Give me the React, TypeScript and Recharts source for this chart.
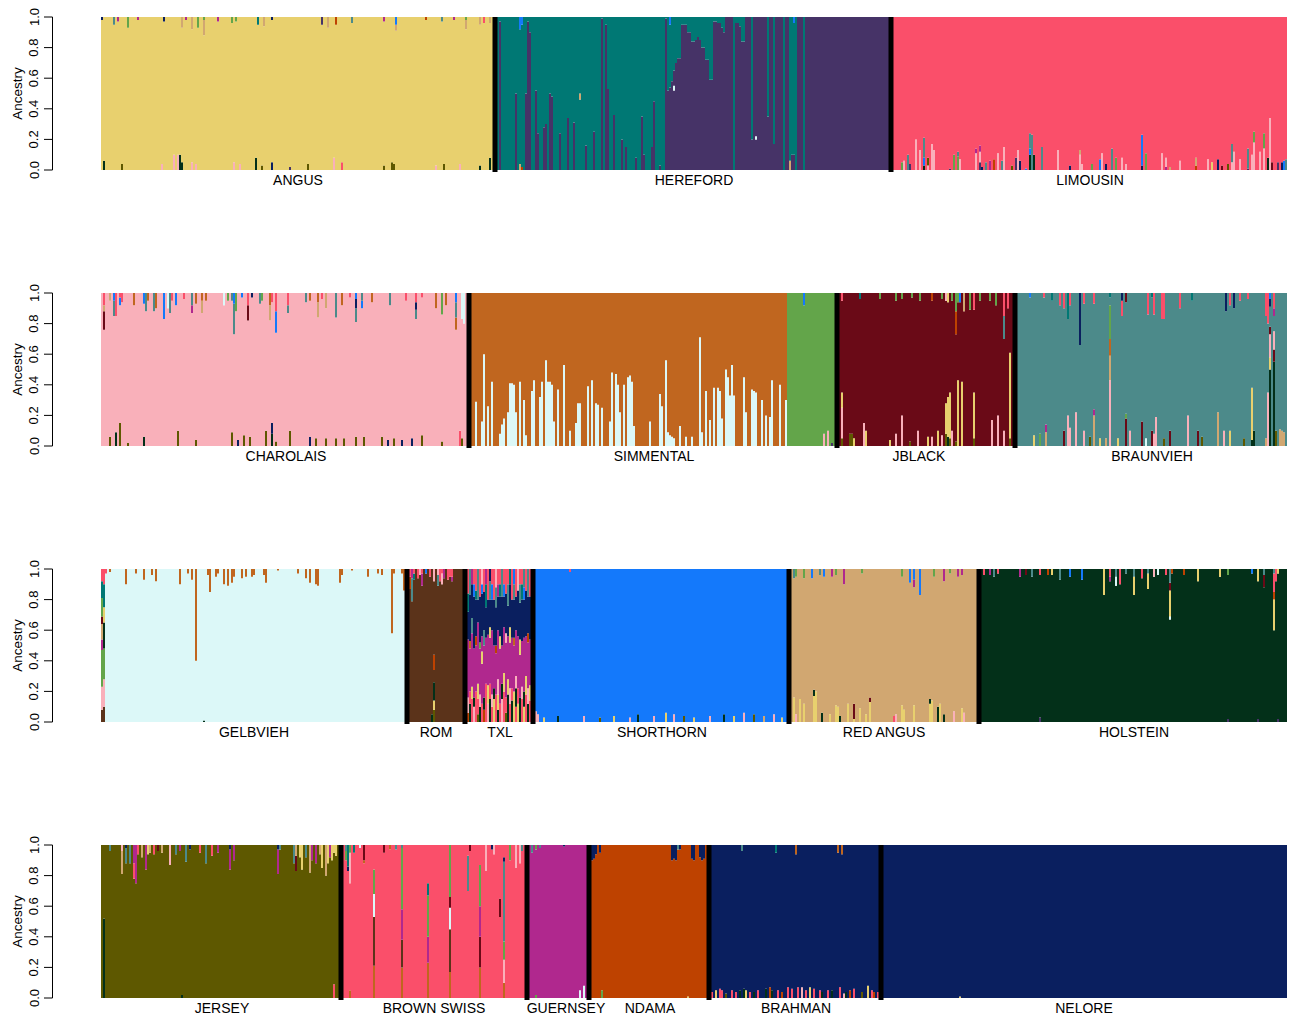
import React from "react";
import { BarChart, Bar, Cell, XAxis, YAxis, ReferenceLine } from "recharts";

// ancestry clusters (K) and their fill colours
const AN = "AN", HT = "HT", HP = "HP", RD = "RD", CH = "CH", SI = "SI", SG = "SG", JB = "JB", BV = "BV";
const GV = "GV", RM = "RM", SH = "SH", RA = "RA", HO = "HO", JE = "JE", GU = "GU", ND = "ND", IN = "IN";

const COLORS: Record<string, string> = {
  AN: "#E8D06E", HT: "#007874", HP: "#463367", RD: "#FA4F6A", CH: "#F9B0BA", SI: "#C0661F",
  SG: "#63A54A", JB: "#6A0A17", BV: "#4C8A8A", GV: "#DCF8F8", RM: "#5B331A", SH: "#1479FB",
  RA: "#D1A771", HO: "#033019", JE: "#5E5800", GU: "#B0288E", ND: "#BE4200", IN: "#0A1F5F",
};

type Seg = [string] | [string, number];
type Entry = [number, Seg[]] | [number, number, Seg[]];
interface Breed { name: string; n: number; main: string; mix: Entry[] }

// ---- individual admixture, segments listed bottom -> top; a segment without a value takes the rest
const ANGUS_MIX: Entry[] = [
  [0, [[AN], [IN, .02]]], [1, [[HO, .06], [AN]]], [6, [[AN], [BV, .05]]], [8, [[AN], [GU, .03]]],
  [10, [[JE, .04], [AN]]], [13, [[AN], [SG, .07]]], [18, [[AN], [GU, .02]]], [30, [[CH, .04], [AN]]],
  [31, [[AN], [IN, .03]]], [36, [[CH, .1], [AN]]], [38, [[CH, .1], [AN]]], [39, [[HO, .1], [AN]]],
  [40, [[HO, .05], [AN], [RA, .07]]], [42, [[AN], [GU, .02]]], [45, [[CH, .05], [AN], [RA, .08]]],
  [47, [[CH, .04], [AN]]], [48, [[AN], [SG, .07]]], [51, [[AN], [RA, .1], [SG, .02]]], [58, [[AN], [GU, .03]]],
  [65, [[AN], [SG, .04]]], [66, [[CH, .05], [AN]]], [67, [[AN], [SG, .03]]], [69, [[CH, .04], [AN]]],
  [77, [[HO, .08], [AN]]], [78, [[AN], [HT, .05]]], [80, [[JE, .03], [AN]]], [81, [[AN], [RA, .06]]],
  [85, [[IN, .05], [AN], [IN, .02]]], [94, [[HP, .02], [AN]]], [103, [[JE, .04], [AN]]], [110, [[AN], [HP, .05]]],
  [113, [[AN], [RA, .07]]], [116, [[CH, .08], [AN]]], [117, [[AN], [ND, .05]]], [120, [[RD, .05], [AN]]],
  [125, [[AN], [BV, .04]]], [141, [[JE, .03], [AN], [GU, .03]]], [145, [[JE, .05], [AN]]], [146, [[JE, .04], [AN]]],
  [147, [[AN], [RA, .04], [SH, .05]]], [162, [[AN], [ND, .02]]], [167, [[CH, .03], [AN]]], [170, [[AN], [BV, .03]]],
  [171, [[JE, .04], [AN]]], [176, [[AN], [GU, .02]]], [179, [[CH, .04], [AN]]], [182, [[AN], [RA, .06], [SG, .02]]],
  [189, [[HO, .03], [AN], [RA, .05]]], [191, [[AN], [RD, .04]]], [194, [[HO, .08], [AN], [RA, .04]]],
];

// Hereford: purple share under the teal (left half), teal share over the purple (right half)
const HEREFORD_PURPLE_LOW: [number, number][] = [
  [2, .97], [10, .5], [15, .5], [16, .97], [17, .9], [20, .52], [21, .24], [24, .28], [25, .3], [27, .5], [28, .48],
  [32, .24], [36, .34], [39, .31], [45, .16], [49, .25], [53, .99], [55, .95], [56, .53], [59, .36], [63, .2],
  [65, .15], [70, .08], [73, .35], [74, .1], [78, .15], [79, .45], [82, .03], [85, .99], [86, .52], [88, .58],
];
const HEREFORD_TEAL_TOP: [number, number][] = [
  [90, .3], [91, .27], [92, .27], [93, .05], [94, .05], [95, .05], [96, .1], [97, .1], [98, .16], [99, .16],
  [100, .15], [101, .13], [102, .15], [103, .2], [104, .2], [105, .28], [106, .28], [107, .41], [108, .41],
  [109, .03], [110, .03], [111, .04], [112, .04], [113, .07], [114, .1], [119, 1], [120, .04], [121, .04],
  [122, .06], [123, .16], [124, .16], [128, .8], [136, .65], [139, .83], [144, 1], [148, .9], [150, 1], [154, 1],
];
const HEREFORD_EXTRA: Entry[] = [
  [12, [[RA, .04], [HT], [SH, .08]]], [13, [[ND, .02], [HT], [SH, .05]]], [42, [[HT, .46], [RA, .04], [HT]]],
  [87, [[HP, .54], [HT], [SH, .05]]], [89, [[HP, .52], [GV, .03], [HP, .1], [HT]]], [130, [[HP, .2], [GV, .02], [HP]]],
  [147, [[RA, .06], [HT]]], [149, [[HP, .1], [HT], [SH, .04]]],
];

const LIMOUSIN_MIX: Entry[] = [
  [5, [[SG, .05], [RD]]], [6, [[CH, .06], [RD]]], [8, [[BV, .1], [RD]]], [9, [[HP, .04], [RD]]], [12, [[CH, .2], [RD]]],
  [14, [[CH, .13], [RD]]], [16, [[HO, .03], [SH, .05], [BV, .13], [RD]]], [18, [[CH, .03], [JE, .05], [RD]]],
  [20, [[CH, .17], [RD]]], [21, [[CH, .13], [RD]]], [29, [[HP, .01], [RD]]], [31, [[SG, .1], [RD]]],
  [33, [[SG, .09], [BV, .03], [RD]]], [34, [[CH, .07], [RD]]], [42, [[CH, .11], [GU, .03], [RD]]],
  [44, [[HP, .05], [CH, .07], [GU, .04], [RD]]], [45, [[IN, .02], [RD]]], [47, [[BV, .05], [RD]]], [49, [[GU, .06], [RD]]],
  [51, [[ND, .07], [RD]]], [53, [[CH, .11], [RD]]], [55, [[BV, .06], [RD]]], [56, [[CH, .15], [RD]]], [60, [[JE, .03], [RD]]],
  [62, [[HP, .08], [RD]]], [63, [[CH, .13], [RD]]], [64, [[IN, .06], [RD]]], [67, [[SH, .01], [RD]]],
  [69, [[HO, .1], [SH, .04], [BV, .1], [RD]]], [70, [[BV, .23], [RD]]], [71, [[HO, .1], [RD]]], [75, [[BV, .15], [RD]]],
  [83, [[CH, .13], [RD]]], [89, [[IN, .03], [RD]]], [94, [[CH, .1], [RA, .03], [RD]]], [95, [[CH, .04], [RD]]],
  [100, [[SG, .04], [RD]]], [104, [[SH, .07], [RD]]], [105, [[CH, .11], [RD]]], [107, [[IN, .04], [RD]]],
  [110, [[BV, .14], [RD]]], [112, [[SG, .08], [RD]]], [115, [[CH, .08], [RD]]], [117, [[CH, .04], [RD]]],
  [125, [[IN, .03], [SH, .2], [RD]]], [127, [[SG, .11], [RD]]], [135, [[CH, .11], [RD]]], [137, [[GU, .02], [CH, .06], [RD]]],
  [139, [[RA, .02], [RD]]], [144, [[CH, .06], [RD]]], [152, [[ND, .03], [RA, .05], [RD]]], [158, [[CH, .07], [RD]]],
  [160, [[AN, .05], [RD]]], [163, [[IN, .07], [RD]]], [165, [[JB, .03], [RD]]], [168, [[JE, .04], [RD]]],
  [170, [[CH, .05], [BV, .12], [RD]]], [171, [[CH, .12], [RD]]], [174, [[CH, .07], [RD]]], [178, [[HP, .01], [BV, .13], [RD]]],
  [180, [[CH, .1], [RD]]], [181, [[CH, .18], [SG, .07], [RD]]], [184, [[CH, .12], [RD]]], [186, [[CH, .14], [SG, .1], [RD]]],
  [188, [[HO, .08], [RD]]], [189, [[CH, .34], [RD]]], [190, [[JB, .05], [RD]]], [193, [[HP, .05], [RD]]],
  [195, [[IN, .05], [RD]]], [196, [[SH, .06], [RD]]], [197, [[BV, .07], [RD]]],
];

const CHAROLAIS_MIX: Entry[] = [
  [1, [[CH], [JB, .12], [RA, .04], [RD, .08]]], [4, [[JE, .06], [CH], [RA, .05]]], [6, [[CH], [BV, .1], [SH, .05]]],
  [7, [[HO, .09], [CH], [RD, .15]]], [9, [[JE, .15], [CH], [SH, .05], [RD, .03]]], [10, [[CH], [RD, .06]]],
  [13, [[JE, .02], [CH]]], [16, [[CH], [SI, .08]]], [21, [[HO, .06], [CH], [SH, .07]]], [22, [[CH], [BV, .12]]],
  [23, [[CH], [SI, .05]]], [26, [[CH], [BV, .12]]], [27, [[CH], [SI, .1]]], [31, [[CH], [SH, .17]]], [33, [[CH], [GV, .1]]],
  [34, [[CH], [BV, .13]]], [35, [[CH], [RD, .05]]], [37, [[CH], [SH, .08]]], [38, [[JE, .1], [CH]]], [41, [[CH], [RD, .04]]],
  [45, [[CH], [GU, .05], [BV, .08]]], [47, [[JE, .04], [CH], [SI, .07]]], [50, [[CH], [RA, .08], [SI, .05]]],
  [52, [[CH], [SI, .05]]], [61, [[CH], [GV, .08]]], [63, [[CH], [SG, .05]]], [65, [[JE, .09], [CH], [BV, .05]]],
  [66, [[CH], [BV, .2], [SH, .07]]], [67, [[CH], [SG, .12]]], [68, [[IN, .04], [CH]]], [70, [[CH], [SH, .03]]],
  [71, [[JE, .07], [CH]]], [73, [[CH], [JB, .1], [RD, .08]]], [74, [[JE, .06], [CH]]], [75, [[CH], [IN, .03]]],
  [79, [[CH], [BV, .07]]], [80, [[CH], [SG, .05]]], [82, [[JE, .1], [CH]]], [84, [[CH], [RA, .1], [SI, .08]]],
  [85, [[HO, .08], [IN, .07], [CH], [RD, .06]]], [87, [[JE, .03], [CH], [SH, .14], [RD, .12]]],
  [93, [[CH], [BV, .05], [RD, .08]]], [94, [[JE, .1], [CH]]], [102, [[CH], [BV, .06]]], [104, [[IN, .06], [CH], [SI, .05]]],
  [107, [[JE, .05], [CH]]], [108, [[CH], [RA, .1], [SI, .06]]], [110, [[CH], [RD, .04]]], [112, [[JE, .05], [CH], [RA, .1]]],
  [117, [[JE, .05], [CH], [BV, .16]]], [120, [[CH], [SI, .08]]], [121, [[JE, .05], [CH]]], [124, [[CH], [RD, .03]]],
  [127, [[JE, .06], [CH], [BV, .09], [IN, .06], [SH, .04]]], [130, [[CH], [SH, .05], [BV, .05]]], [131, [[JE, .06], [CH]]],
  [135, [[CH], [SI, .06]]], [140, [[JE, .06], [CH]]], [143, [[IN, .04], [CH]]], [144, [[CH], [BV, .08]]],
  [146, [[JE, .05], [CH]]], [150, [[IN, .04], [CH]]], [152, [[CH], [RD, .05]]], [155, [[IN, .05], [CH]]],
  [157, [[CH], [BV, .06], [IN, .05], [RD, .06]]], [160, [[JE, .07], [CH], [RD, .03]]], [167, [[CH], [SI, .1]]],
  [170, [[JE, .03], [CH], [SG, .14]]], [172, [[CH], [SI, .08]]], [177, [[CH], [SI, .08], [BV, .1], [SH, .06]]],
  [179, [[RD, .1], [CH]]], [180, [[JE, .05], [CH], [GV, .17]]], [181, [[CH], [GV, .2]]],
];

// Simmental: Gelbvieh share at the bottom of each admixed animal
const SIMMENTAL_GV: [number, number][] = [
  [3, .29], [6, .16], [7, .6], [9, .26], [11, .42], [15, .08], [16, .14], [17, .18], [19, .22], [20, .41], [21, .41],
  [22, .4], [23, .22], [25, .42], [27, .3], [28, .07], [31, .36], [32, .43], [35, .32], [36, .42], [38, .56], [39, .42],
  [40, .42], [41, .4], [42, .16], [44, .37], [47, .53], [50, .1], [53, .15], [54, .28], [55, .28], [59, .39], [61, .43],
  [63, .28], [64, .27], [66, .25], [70, .16], [71, .48], [73, .47], [74, .4], [75, .22], [77, .4], [79, .45], [80, .46],
  [81, .42], [82, .13], [90, .16], [95, .34], [96, .26], [98, .56], [99, .09], [100, .07], [101, .06], [102, .05],
  [105, .13], [108, .06], [111, .06], [115, .71], [116, .09], [118, .36], [120, .17], [122, .38], [124, .38], [125, .36],
  [126, .18], [128, .5], [129, .45], [130, .33], [131, .53], [132, .33], [137, .45], [138, .22], [141, .37], [142, .36],
  [143, .35], [146, .3], [148, .2], [150, .19], [151, .43], [155, .4], [158, .3],
];
const SIMMENTAL_EXTRA: Entry[] = [
  [167, [[SG], [SH, .08]]], [177, [[CH, .08], [SG]]], [179, [[CH, .1], [SG]]], [181, [[HP, .02], [SG]]],
];

const JBLACK_MIX: Entry[] = [
  [2, [[JE, .05], [CH, .2], [AN, .1], [JB], [RD, .05]]], [6, [[JE, .08], [JB]]], [7, [[JE, .08], [JB]]], [8, [[AN, .05], [JB]]],
  [11, [[JB], [HT, .04]]], [13, [[CH, .15], [JB]]], [14, [[AN, .1], [JB]]], [21, [[JB], [SG, .04]]], [26, [[AN, .04], [JB]]],
  [29, [[CH, .08], [JB], [SG, .05]]], [32, [[CH, .2], [JB], [SG, .04]]], [36, [[JE, .03], [JB]]], [37, [[JB], [SG, .03]]],
  [40, [[CH, .1], [JB]]], [41, [[JB], [SG, .05]]], [45, [[AN, .06], [JB]]], [47, [[CH, .06], [JB], [ND, .05]]],
  [50, [[AN, .1], [JB]]], [52, [[CH, .07], [JB], [SG, .04]]], [54, [[JE, .08], [AN, .2], [JB], [CH, .05]]],
  [55, [[HO, .06], [AN, .26], [JB], [AN, .06]]], [56, [[JE, .05], [AN, .3], [JB]]], [57, [[CH, .1], [JB], [SG, .05]]],
  [59, [[JE, .03], [JB], [ND, .15], [SG, .12]]], [60, [[AN, .43], [JB], [SG, .06]]], [61, [[JB], [SH, .06]]],
  [62, [[AN, .42], [JB]]], [63, [[JB], [RA, .12]]], [66, [[JB], [SG, .11]]], [68, [[JE, .05], [AN, .3], [JB], [RD, .11]]],
  [71, [[JB], [SG, .05]]], [76, [[JB], [SG, .05]]], [77, [[CH, .17], [JB]]], [79, [[JB], [SG, .08]]], [80, [[CH, .2], [JB]]],
  [83, [[CH, .1], [JB], [BV, .15], [RD, .15]]], [85, [[JB], [RD, .1]]], [86, [[JE, .05], [AN, .56], [JB]]],
];

const BRAUNVIEH_MIX: Entry[] = [
  [7, [[BV], [SH, .03]]], [9, [[AN, .07], [BV]]], [12, [[SG, .08], [BV]]], [14, [[BV], [RD, .03]]],
  [15, [[RA, .09], [GU, .05], [BV]]], [18, [[BV], [HT, .05]]], [22, [[BV], [RD, .08]]], [24, [[JB, .1], [BV], [RD, .1]]],
  [26, [[CH, .2], [BV], [HT, .17]]], [27, [[CH, .12], [BV], [RD, .08]]], [30, [[CH, .22], [BV]]], [32, [[BV], [IN, .34]]],
  [34, [[CH, .1], [BV], [RD, .07]]], [37, [[JE, .06], [BV]]], [39, [[RA, .2], [GU, .04], [BV], [RD, .07]]],
  [42, [[AN, .05], [BV]]], [45, [[RA, .05], [BV]]], [47, [[CH, .43], [RA, .16], [SI, .11], [SG, .22], [BV], [HT, .03]]],
  [51, [[AN, .05], [BV]]], [53, [[BV], [RD, .1], [IN, .05]]], [55, [[JB, .18], [SG, .03], [BV], [JB, .06]]],
  [57, [[CH, .1], [BV]]], [63, [[JB, .16], [BV]]], [65, [[GV, .05], [BV]]], [66, [[BV], [RD, .14]]],
  [68, [[JB, .1], [BV], [HT, .03]]], [69, [[CH, .08], [BV], [RD, .14]]], [70, [[CH, .19], [BV]]], [73, [[BV], [RD, .17]]],
  [74, [[JE, .05], [BV], [RD, .17]]], [77, [[JB, .1], [BV]]], [82, [[BV], [RD, .1]]], [86, [[CH, .2], [BV]]],
  [88, [[BV], [HT, .05]]], [91, [[JB, .1], [BV]]], [93, [[JE, .06], [BV]]], [101, [[RA, .22], [BV]]], [104, [[CH, .1], [BV]]],
  [105, [[BV], [IN, .12]]], [107, [[AN, .1], [BV], [RD, .08]]], [109, [[BV], [IN, .1]]], [112, [[BV], [RD, .05]]],
  [114, [[JE, .05], [BV]]], [116, [[BV], [RD, .04]]], [118, [[HO, .04], [AN, .34], [BV]]], [119, [[HO, .1], [BV]]],
  [125, [[RA, .05], [BV], [RD, .15]]], [126, [[CH, .35], [BV], [RD, .2]]],
  [127, [[HO, .5], [AN, .08], [CH, .15], [JB, .05], [BV], [IN, .05], [SH, .04]]],
  [129, [[HO, .55], [JB, .08], [CH, .12], [BV], [GU, .05], [RD, .1]]], [130, [[JE, .1], [BV]]],
  [132, [[RA, .11], [BV]]], [133, [[RA, .1], [BV]]], [134, [[RA, .09], [BV]]],
];

// Gelbvieh: Simmental share on top
const GELBVIEH_SI: [number, number][] = [
  [4, .02], [12, .1], [17, .03], [21, .07], [25, .04], [27, .08], [39, .1], [43, .03], [45, .07], [47, .6], [53, .04],
  [54, .15], [57, .05], [58, .03], [61, .1], [63, .11], [65, .09], [66, .05], [70, .06], [72, .05], [75, .05], [76, .04],
  [81, .04], [82, .09], [88, .01], [98, .03], [102, .06], [104, .09], [107, .1], [108, .11], [119, .09], [120, .04],
  [125, .01], [133, .05], [138, .03], [140, .04], [145, .42], [146, .03], [150, .03], [151, .14], [152, .1],
];
const GELBVIEH_EXTRA: Entry[] = [
  [0, [[RM, .08], [CH, .15], [SG, .24], [GU, .07], [RA, .1], [JB, .05], [SG, .12], [HT, .11], [RD, .08]]],
  [1, [[RM, .1], [CH, .18], [SG, .2], [HO, .17], [AN, .1], [HT, .15], [RD, .1]]],
  [2, [[GV], [RD, .03]]], [51, [[HO, .01], [GV]]],
];

const ROM_MIX: Entry[] = [
  [1, [[RM], [ND, .08], [RD, .05]]], [2, [[RM], [BV, .15], [GU, .06]]], [3, [[RM], [HT, .04], [RD, .03]]],
  [5, [[RM], [RD, .06]]], [6, [[RM], [CH, .04]]], [7, [[RM], [GU, .08], [RD, .03]]], [9, [[RM], [SH, .03]]],
  [11, [[RM], [RD, .05]]], [12, [[HO, .05], [RM]]], [13, [[JE, .08], [AN, .06], [HO, .12], [RM, .08], [ND, .1], [RM], [CH, .08]]],
  [15, [[RM], [BV, .07], [CH, .04]]], [16, [[RM], [RD, .08]]], [17, [[RM], [CH, .07], [RD, .03]]], [18, [[RM], [GU, .06]]],
  [20, [[RM], [RD, .07]]], [21, [[RM], [RD, .05]]], [22, [[RM], [GU, .03], [RD, .05]]],
];

// Texas Longhorn: every animal is a blend
const TXL_MIX: Entry[] = [
  [0, [[RD, .1], [HO, .08], [GU, .3], [AN, .05], [IN, .27], [BV, .12], [SH, .08]]],
  [1, [[ND, .06], [CH, .1], [GU, .38], [IN, .18], [HT, .12], [RD, .16]]],
  [2, [[HO, .12], [RD, .08], [GU, .28], [SI, .05], [IN, .3], [BV, .17]]],
  [3, [[RD, .15], [AN, .08], [GU, .35], [BV, .1], [IN, .22], [GU, .1]]],
  [4, [[CH, .1], [HO, .06], [GU, .32], [IN, .34], [SH, .08], [RD, .1]]],
  [5, [[RD, .2], [GU, .3], [ND, .06], [IN, .24], [HT, .06], [RD, .14]]],
  [6, [[JE, .05], [RD, .1], [AN, .1], [GU, .4], [IN, .15], [BV, .2]]],
  [7, [[HO, .1], [CH, .08], [GU, .3], [SG, .04], [IN, .3], [RD, .18]]],
  [8, [[RD, .12], [GU, .26], [AN, .08], [GU, .1], [IN, .28], [SH, .06], [CH, .1]]],
  [9, [[ND, .08], [HO, .08], [GU, .34], [BV, .1], [IN, .25], [RD, .15]]],
  [10, [[RD, .25], [GU, .3], [IN, .2], [HT, .15], [GU, .1]]],
  [11, [[CH, .12], [AN, .12], [GU, .33], [IN, .23], [RD, .2]]],
  [12, [[HO, .15], [RD, .1], [GU, .3], [AN, .07], [IN, .18], [BV, .12], [IN, .08]]],
  [13, [[RD, .1], [CH, .08], [GU, .42], [IN, .2], [SH, .1], [RD, .1]]],
  [14, [[AN, .15], [HO, .07], [GU, .28], [IN, .3], [RD, .2]]],
  [15, [[RD, .18], [GU, .27], [ND, .05], [IN, .25], [BV, .13], [CH, .12]]],
  [16, [[HO, .08], [AN, .1], [CH, .1], [GU, .32], [IN, .22], [GU, .08], [RD, .1]]],
  [17, [[RD, .12], [GU, .36], [AN, .08], [IN, .26], [HT, .08], [RD, .1]]],
  [18, [[CH, .15], [HO, .1], [GU, .25], [IN, .32], [BV, .18]]],
  [19, [[RD, .2], [AN, .12], [GU, .3], [IN, .2], [SH, .08], [RD, .1]]],
  [20, [[JE, .06], [RD, .1], [GU, .36], [CH, .06], [IN, .26], [RD, .16]]],
  [21, [[HO, .18], [AN, .1], [GU, .28], [IN, .2], [BV, .14], [RD, .1]]],
  [22, [[RD, .12], [CH, .1], [GU, .3], [AN, .1], [IN, .28], [HT, .1]]],
  [23, [[HO, .14], [RD, .08], [GU, .33], [IN, .25], [RD, .2]]],
  [24, [[AN, .2], [GU, .3], [SI, .05], [IN, .25], [BV, .1], [SH, .1]]],
  [25, [[RD, .1], [HO, .12], [CH, .08], [GU, .3], [IN, .22], [RD, .18]]],
  [26, [[AN, .12], [RD, .1], [GU, .34], [IN, .3], [CH, .14]]],
  [27, [[HO, .16], [GU, .28], [AN, .1], [IN, .24], [BV, .12], [RD, .1]]],
  [28, [[RD, .15], [CH, .08], [GU, .3], [IN, .27], [HT, .1], [RD, .1]]],
  [29, [[AN, .1], [HO, .1], [GU, .35], [IN, .25], [SH, .08], [BV, .12]]],
  [30, [[RD, .18], [AN, .12], [GU, .26], [IN, .3], [RD, .14]]],
  [31, [[HO, .12], [CH, .1], [GU, .3], [ND, .06], [IN, .24], [BV, .18]]],
  [32, [[RD, .14], [AN, .1], [GU, .3], [IN, .28], [RD, .18]]],
  [33, [[CH, .1], [HO, .1], [GU, .32], [IN, .3], [SH, .08], [RD, .1]]],
];

const SHORTHORN_MIX: Entry[] = [
  [1, [[CH, .07], [SH]]], [2, [[CH, .05], [SH]]], [5, [[AN, .03], [SH]]], [12, [[HO, .04], [SH]]], [18, [[SH], [RD, .02]]],
  [25, [[CH, .04], [SH]]], [33, [[JE, .03], [SH]]], [40, [[AN, .04], [SH]]], [48, [[CH, .03], [SH]]], [52, [[HO, .05], [SH]]],
  [60, [[CH, .04], [SH]]], [66, [[AN, .06], [SH]]], [70, [[CH, .05], [SH]]], [75, [[JE, .04], [SH]]], [80, [[AN, .03], [SH]]],
  [88, [[CH, .04], [SH]]], [95, [[HO, .05], [SH]]], [100, [[AN, .04], [SH]]], [105, [[CH, .06], [SH]]], [110, [[JE, .05], [SH]]],
  [115, [[RA, .04], [SH]]], [120, [[CH, .05], [SH]]], [124, [[AN, .03], [SH]]],
];

const RED_ANGUS_MIX: Entry[] = [
  [2, [[AN, .16], [RA], [BV, .06]]], [3, [[CH, .05], [RA], [SG, .05]]], [5, [[AN, .15], [RA]]], [7, [[AN, .12], [RA], [SG, .06]]],
  [11, [[RA], [SH, .06]]], [12, [[AN, .17], [HO, .04], [RA]]], [13, [[AN, .2], [RA]]], [15, [[RA], [BV, .04]]],
  [16, [[HO, .06], [RA]]], [17, [[RA], [SH, .05]]], [20, [[AN, .05], [RA]]], [21, [[RA], [GU, .05]]],
  [23, [[AN, .11], [RA], [SG, .04]]], [24, [[AN, .1], [RA]]], [25, [[HO, .04], [RA]]], [27, [[RA], [GU, .1]]],
  [29, [[AN, .12], [RA]]], [32, [[AN, .02], [JB, .1], [RA]]], [35, [[AN, .09], [RA]]], [36, [[RA], [SG, .03]]],
  [38, [[AN, .05], [RA]]], [40, [[AN, .13], [JB, .03], [RA]]], [52, [[RD, .04], [RA]]], [53, [[CH, .05], [RA]]],
  [56, [[AN, .11], [RA], [SG, .05]]], [57, [[AN, .08], [RA]]], [60, [[RA], [SH, .09]]], [62, [[AN, .11], [RA], [GU, .05], [SH, .07]]],
  [65, [[RA], [SH, .17]]], [70, [[AN, .12], [HO, .03], [RA]]], [71, [[AN, .14], [RA]]], [72, [[RA], [SG, .05]]],
  [74, [[HO, .1], [RA]]], [75, [[AN, .12], [RA]]], [77, [[HO, .05], [RA], [GU, .08]]], [80, [[RA], [SG, .03]]],
  [82, [[CH, .07], [RA]]], [84, [[RA], [GU, .05]]], [86, [[AN, .09], [RA], [GU, .04]]], [87, [[CH, .06], [RA]]],
];

const HOLSTEIN_MIX: Entry[] = [
  [2, [[HO], [RD, .04]]], [5, [[HO], [GU, .04]]], [7, [[HO], [BV, .05]]], [9, [[HO], [RD, .03]]], [20, [[HO], [GU, .05]]],
  [23, [[HO], [JB, .04]]], [26, [[HO], [BV, .05]]], [30, [[HP, .03], [HO], [RD, .04]]], [34, [[HO], [ND, .04]]],
  [36, [[HO], [AN, .04]]], [40, [[HO], [BV, .07]]], [45, [[HO], [SH, .05]]], [51, [[HO], [SH, .07]]], [62, [[HO], [AN, .17]]],
  [65, [[HO], [GU, .03], [RD, .05]]], [68, [[HO], [GV, .06], [BV, .05]]], [70, [[HO], [RD, .1]]], [73, [[HO], [BV, .03]]],
  [77, [[HO], [AN, .12], [BV, .05]]], [81, [[HO], [RD, .06]]], [84, [[HO], [AN, .1], [BV, .03]]], [87, [[HO], [CH, .05]]],
  [89, [[HO], [GV, .04]]], [93, [[HO], [RD, .04]]], [95, [[HO], [GV, .02], [AN, .17], [JB, .05], [BV, .09]]],
  [96, [[HO], [ND, .03]]], [102, [[HO], [ND, .04]]], [109, [[HO], [AN, .08]]], [120, [[HO], [AN, .05]]],
  [124, [[HP, .02], [HO], [SG, .04]]], [136, [[HO], [SH, .03]]], [139, [[HP, .02], [HO], [AN, .08]]],
  [142, [[HO], [JB, .08], [BV, .04]]], [147, [[HO], [AN, .2], [ND, .05], [RD, .12], [BV, .03]]], [148, [[HO], [RD, .08]]],
  [149, [[HP, .02], [HO], [AN, .03]]],
];

const JERSEY_MIX: Entry[] = [
  [1, [[HO, .52], [JE]]], [4, [[JE], [BV, .04]]], [10, [[JE], [RA, .15], [CH, .04]]], [12, [[JE], [BV, .1], [IN, .02]]],
  [14, [[JE], [BV, .12]]], [16, [[JE], [RD, .1], [GU, .12]]], [17, [[JE], [GU, .25]]], [18, [[JE], [RD, .06]]],
  [20, [[JE], [RA, .08]]], [22, [[JE], [GU, .16]]], [23, [[JE], [AN, .06]]], [24, [[JE], [RA, .05]]], [26, [[JE], [RD, .06]]],
  [28, [[JE], [JB, .04]]], [30, [[JE], [RA, .05]]], [34, [[JE], [CH, .13]]], [37, [[JE], [BV, .06]]], [39, [[JE], [GU, .04]]],
  [40, [[HO, .02], [JE]]], [42, [[JE], [BV, .11]]], [44, [[JE], [IN, .03]]], [49, [[JE], [RD, .05]]], [52, [[JE], [BV, .12]]],
  [55, [[JE], [RD, .07]]], [58, [[JE], [GU, .05]]], [64, [[JE], [GU, .13], [IN, .03]]], [66, [[JE], [GU, .1]]],
  [88, [[JE], [GU, .16], [IN, .03]]], [89, [[JE], [BV, .03]]], [96, [[JE], [BV, .12]]], [97, [[JE], [JB, .1], [RA, .07]]],
  [99, [[JE], [AN, .08]]], [100, [[JE], [AN, .16]]], [102, [[JE], [BV, .08]]], [104, [[JE], [RA, .18]]], [105, [[JE], [GU, .1]]],
  [107, [[JE], [GU, .12]]], [109, [[JE], [RA, .06]]], [110, [[JE], [AN, .15]]], [112, [[JE], [RA, .2]]], [113, [[JE], [AN, .12]]],
  [114, [[JE], [GU, .08]]], [115, [[JE], [AN, .1]]], [116, [[RD, .09], [JE], [AN, .05]]], [117, [[JE], [AN, .07]]],
];

const BROWN_SWISS_MIX: Entry[] = [
  [2, [[RD], [SG, .06], [BV, .04]]], [3, [[RD], [IN, .03], [HT, .14]]], [4, [[SI, .05], [RD], [CH, .2], [SG, .05]]],
  [6, [[RD], [HT, .05]]], [9, [[RD], [GV, .02]]], [11, [[RD], [SI, .02], [JB, .1]]],
  [16, [[SI, .21], [RM, .32], [GV, .15], [SG, .16], [RD]]], [21, [[RD], [JB, .05]]], [24, [[RD], [SI, .03]]],
  [27, [[RD], [BV, .03]]], [30, [[SI, .2], [RM, .18], [GU, .2], [SG, .4], [BV, .02]]],
  [43, [[SI, .23], [GU, .17], [SG, .27], [HT, .08], [RD]]], [54, [[SI, .17], [RM, .28], [GV, .14], [JB, .07], [SG, .34]]],
  [63, [[RD], [BV, .23], [RD, .07]]], [64, [[RD], [JB, .04]]], [69, [[SI, .2], [JB, .2], [GU, .2], [SG, .27], [RD]]],
  [72, [[RD], [CH, .17]]], [75, [[RD], [IN, .03]]], [76, [[RD], [CH, .06]]], [79, [[RD], [JB, .12], [RD, .35]]],
  [81, [[SI, .1], [CH, .15], [SG, .12], [BV, .52], [IN, .03], [RD, .08]]], [84, [[RD], [SG, .1]]], [87, [[RD], [CH, .15]]],
  [89, [[RD], [CH, .12]]], [90, [[RD], [BV, .04]]],
];

const GUERNSEY_MIX: Entry[] = [
  [2, [[GU], [BV, .05]]], [4, [[SG, .02], [GU], [SG, .03]]], [6, [[GU], [BV, .02]]], [18, [[GU], [IN, .01]]],
  [26, [[GV, .05], [GU]]], [28, [[GV, .08], [GU]]],
];

const NDAMA_MIX: Entry[] = [
  [1, [[ND], [IN, .1]]], [2, [[ND], [IN, .09]]], [3, [[ND], [IN, .06]]], [5, [[ND], [IN, .05]]], [6, [[SG, .05], [ND]]],
  [41, [[ND], [IN, .1]]], [42, [[ND], [IN, .09]]], [43, [[ND], [IN, .1]]], [44, [[ND], [BV, .03]]], [45, [[ND], [IN, .03]]],
  [49, [[AN, .01], [ND]]], [51, [[ND], [IN, .09]]], [52, [[ND], [IN, .1]]], [55, [[ND], [IN, .08]]], [56, [[ND], [IN, .1]]],
  [57, [[ND], [IN, .09]]],
];

const BRAHMAN_MIX: Entry[] = [
  [1, [[RD, .04], [IN]]], [3, [[AN, .05], [IN]]], [5, [[RD, .06], [IN]]], [6, [[RD, .05], [IN]]], [8, [[JE, .03], [IN]]],
  [11, [[RD, .05], [IN]]], [13, [[RD, .04], [IN]]], [15, [[HO, .05], [IN]]], [16, [[IN], [BV, .04]]], [17, [[HO, .06], [IN]]],
  [18, [[AN, .05], [IN]]], [20, [[RD, .04], [IN]]], [22, [[HO, .04], [IN]]], [24, [[RD, .05], [IN]]], [28, [[HO, .06], [IN]]],
  [30, [[ND, .07], [IN]]], [31, [[HO, .05], [IN]]], [33, [[IN], [HT, .05]]], [34, [[RD, .05], [IN]]], [36, [[ND, .04], [IN]]],
  [39, [[RD, .07], [IN]]], [41, [[RD, .06], [IN]]], [43, [[IN], [SI, .06]]], [44, [[RD, .07], [IN]]], [46, [[CH, .07], [IN]]],
  [48, [[RD, .05], [IN]]], [50, [[AN, .07], [IN]]], [52, [[RD, .06], [IN]]], [55, [[RD, .05], [IN]]], [56, [[HO, .04], [IN]]],
  [59, [[RD, .05], [IN]]], [61, [[HO, .05], [IN]]], [64, [[IN], [SI, .05]]], [65, [[RD, .07], [IN]]], [66, [[IN], [SI, .06]]],
  [67, [[CH, .03], [IN]]], [68, [[HO, .04], [IN]]], [70, [[ND, .05], [IN]]], [72, [[RD, .06], [IN]]], [76, [[JE, .04], [IN]]],
  [79, [[AN, .08], [IN]]], [81, [[RD, .05], [IN]]], [82, [[ND, .04], [IN]]], [84, [[RD, .04], [IN]]],
];

const NELORE_MIX: Entry[] = [[39, [[AN, .01], [IN]]]];

// ---- panels (breed, sample size, dominant cluster)
const PANEL_1: Breed[] = [
  { name: "ANGUS", n: 197, main: AN, mix: ANGUS_MIX },
  {
    name: "HEREFORD", n: 198, main: HT,
    mix: [
      [89, 197, [[HP]]],
      ...HEREFORD_TEAL_TOP.map(([i, f]): Entry => [i, [[HP], [HT, f]]]),
      ...HEREFORD_PURPLE_LOW.map(([i, f]): Entry => [i, [[HP, f], [HT]]]),
      ...HEREFORD_EXTRA,
    ],
  },
  { name: "LIMOUSIN", n: 198, main: RD, mix: LIMOUSIN_MIX },
];
const PANEL_2: Breed[] = [
  { name: "CHAROLAIS", n: 184, main: CH, mix: CHAROLAIS_MIX },
  {
    name: "SIMMENTAL", n: 184, main: SI,
    mix: [[159, 183, [[SG]]], ...SIMMENTAL_GV.map(([i, f]): Entry => [i, [[GV, f], [SI]]]), ...SIMMENTAL_EXTRA],
  },
  { name: "JBLACK", n: 89, main: JB, mix: JBLACK_MIX },
  { name: "BRAUNVIEH", n: 136, main: BV, mix: BRAUNVIEH_MIX },
];
const PANEL_3: Breed[] = [
  { name: "GELBVIEH", n: 153, main: GV, mix: [...GELBVIEH_SI.map(([i, f]): Entry => [i, [[GV], [SI, f]]]), ...GELBVIEH_EXTRA] },
  { name: "ROM", n: 29, main: RM, mix: ROM_MIX },
  { name: "TXL", n: 34, main: GU, mix: TXL_MIX },
  { name: "SHORTHORN", n: 128, main: SH, mix: SHORTHORN_MIX },
  { name: "RED ANGUS", n: 95, main: RA, mix: RED_ANGUS_MIX },
  { name: "HOLSTEIN", n: 154, main: HO, mix: HOLSTEIN_MIX },
];
const PANEL_4: Breed[] = [
  { name: "JERSEY", n: 120, main: JE, mix: JERSEY_MIX },
  { name: "BROWN SWISS", n: 93, main: RD, mix: BROWN_SWISS_MIX },
  { name: "GUERNSEY", n: 31, main: GU, mix: GUERNSEY_MIX },
  { name: "NDAMA", n: 60, main: ND, mix: NDAMA_MIX },
  { name: "BRAHMAN", n: 86, main: IN, mix: BRAHMAN_MIX },
  { name: "NELORE", n: 203, main: IN, mix: NELORE_MIX },
];
const PANELS = [PANEL_1, PANEL_2, PANEL_3, PANEL_4];
const Y_TICKS = [0, 0.2, 0.4, 0.6, 0.8, 1];

// layout
const W = 1291;
const PANEL_H = 276;
const PLOT_TOP = 17;
const PLOT_H = 153;
const FONT = "'Liberation Sans', Arial, Helvetica, sans-serif";
const LABEL_NUDGE: Record<string, number> = { JBLACK: -7, GUERNSEY: 8 };

function buildPanel(breeds: Breed[]) {
  const rows: Record<string, any>[] = [];
  const starts: string[] = [];
  const ticks: string[] = [];
  const labelOf: Record<string, string> = {};
  let slots = 1;
  breeds.forEach((b) => {
    const cols: Seg[][] = Array.from({ length: b.n }, () => [[b.main]] as Seg[]);
    b.mix.forEach((e) => {
      const [from, to, segs] = e.length === 3 ? e : [e[0], e[0], e[1]];
      for (let i = from; i <= to; i++) cols[i] = segs;
    });
    cols.forEach((segs, i) => {
      const id = `${b.name}-${i}`;
      if (i === 0) starts.push(id);
      if (i === Math.floor(b.n / 2)) { ticks.push(id); labelOf[id] = b.name; }
      const fixed = segs.reduce((s, g) => s + (g[1] ?? 0), 0);
      const row: Record<string, any> = { id };
      segs.forEach((g, k) => {
        row[`v${k}`] = g[1] ?? Math.max(0, 1 - fixed);
        row[`c${k}`] = g[0];
      });
      slots = Math.max(slots, segs.length);
      rows.push(row);
    });
  });
  return { rows, starts, ticks, labelOf, slots };
}

function AncestryTick({ y, payload }: any) {
  const v = payload.value as number;
  return (
    <g>
      <line x1={44} x2={52.5} y1={y} y2={y} stroke="#000" strokeWidth={1} />
      <text x={34} y={y} transform={`rotate(-90 34 ${y})`} textAnchor="middle" dominantBaseline="central"
        fontSize={13} fontFamily={FONT} fill="#000">{v.toFixed(1)}</text>
      {v === 0 && (
        <>
          <line x1={52.5} x2={52.5} y1={y} y2={y - PLOT_H} stroke="#000" strokeWidth={1} />
          <text x={17.5} y={y - PLOT_H / 2} transform={`rotate(-90 17.5 ${y - PLOT_H / 2})`} textAnchor="middle"
            dominantBaseline="central" fontSize={13.5} fontFamily={FONT} fill="#000">Ancestry</text>
        </>
      )}
    </g>
  );
}

function Separator(props: any) {
  const { x1, x2, y1, y2 } = props;
  return <line x1={x1} x2={x2} y1={Math.min(y1, y2)} y2={Math.max(y1, y2) + 2} stroke="#000" strokeWidth={5} />;
}

function StructurePanel({ breeds }: { breeds: Breed[] }) {
  const { rows, starts, ticks, labelOf, slots } = buildPanel(breeds);
  return (
    <BarChart width={W} height={PANEL_H} data={rows} barCategoryGap={0} barGap={0}
      margin={{ top: PLOT_TOP, right: 4, bottom: PANEL_H - PLOT_TOP - PLOT_H - 30, left: 41 }}>
      <XAxis dataKey="id" ticks={ticks} interval={0} height={30} axisLine={false} tickLine={false}
        tick={(p: any) => {
          const name = labelOf[p.payload.value];
          return (
            <text x={p.x + (LABEL_NUDGE[name] ?? 0)} y={PLOT_TOP + PLOT_H + 15} textAnchor="middle"
              fontSize={14} fontFamily={FONT} fill="#000">{name}</text>
          );
        }} />
      <YAxis type="number" domain={[0, 1]} ticks={Y_TICKS} allowDataOverflow width={60}
        axisLine={false} tickLine={false} tick={<AncestryTick />} />
      {Array.from({ length: slots }, (_, k) => (
        <Bar key={k} dataKey={`v${k}`} stackId="q" isAnimationActive={false} stroke="none">
          {rows.map((r, i) => <Cell key={i} fill={COLORS[r[`c${k}`]] ?? "none"} />)}
        </Bar>
      ))}
      {starts.slice(1).map((id) => (
        <ReferenceLine key={id} x={id} position="start" stroke="#000" strokeWidth={5} shape={Separator} />
      ))}
    </BarChart>
  );
}

export default function App() {
  return (
    <div style={{ position: "absolute", left: 0, top: 0, width: W, height: 1014, overflow: "hidden", background: "#fff" }}>
      <style>{"svg rect{shape-rendering:crispEdges}"}</style>
      {PANELS.map((breeds, i) => (
        <div key={i} style={{ position: "absolute", left: 0, top: i * PANEL_H, width: W, height: PANEL_H }}>
          <StructurePanel breeds={breeds} />
        </div>
      ))}
    </div>
  );
}
